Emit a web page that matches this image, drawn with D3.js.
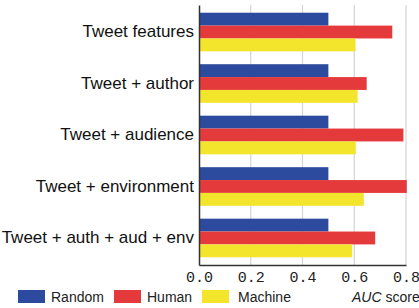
<!DOCTYPE html>
<html>
<head>
<meta charset="utf-8">
<script src="https://d3js.org/d3.v7.min.js"></script>
<style>
  body { margin: 0; background: #fff; }
  svg { display: block; }
</style>
</head>
<body>
<div id="graph"></div>
<script>
var categories = ["Tweet features", "Tweet + author", "Tweet + audience", "Tweet + environment", "Tweet + auth + aud + env"];
var seriesNames = ["Random", "Human", "Machine"];
var randomVals = [0.50, 0.50, 0.50, 0.50, 0.50];
var humanVals = [0.747, 0.648, 0.79, 0.803, 0.681];
var machineVals = [0.605, 0.613, 0.606, 0.637, 0.592];
var xTicks = [0.0, 0.2, 0.4, 0.6, 0.8];
var colors = ["#2d4b9e", "#e53a3b", "#f2e52c"];

var width = 419, height = 308;
var margin = {top: 5, right: 0, bottom: 43, left: 199};

var svg = d3.select("div#graph").append("svg")
  .attr("width", width)
  .attr("height", height);

var xScale = d3.scaleLinear().domain([0, 0.8]).range([margin.left, 406]);
var yScale = d3.scaleBand().domain(categories)
  .range([margin.top, height - margin.bottom])
  .paddingInner(0.25).paddingOuter(0.15);
var sub = d3.scaleBand().domain(seriesNames).range([0, yScale.bandwidth()]);

var allVals = [randomVals, humanVals, machineVals];

// grid lines
svg.append("g").selectAll("line").data(xTicks.slice(1)).enter().append("line")
  .attr("x1", function(d) { return xScale(d); })
  .attr("x2", function(d) { return xScale(d); })
  .attr("y1", margin.top)
  .attr("y2", height - margin.bottom)
  .attr("stroke", "#d4d4d4")
  .attr("stroke-width", 1.2);

// bars
seriesNames.forEach(function(s, i) {
  svg.append("g").selectAll("rect").data(allVals[i]).enter().append("rect")
    .attr("x", xScale(0))
    .attr("y", function(d, j) { return yScale(categories[j]) + sub(s); })
    .attr("width", function(d) { return xScale(d) - xScale(0); })
    .attr("height", sub.bandwidth())
    .attr("fill", colors[i]);
});

// axes
var xAxis = svg.append("g")
  .attr("transform", "translate(0," + (height - margin.bottom) + ")")
  .call(d3.axisBottom(xScale).tickValues(xTicks).tickSize(0).tickPadding(6).tickFormat(d3.format(".1f")));
xAxis.select(".domain").attr("stroke", "#333").attr("stroke-width", 1.5);
xAxis.selectAll("text")
  .attr("font-family", "'Liberation Mono', 'DejaVu Sans Mono', monospace")
  .attr("font-size", 15)
  .attr("fill", "#222");

var yAxis = svg.append("g")
  .attr("transform", "translate(" + margin.left + ",0)")
  .call(d3.axisLeft(yScale).tickSize(0).tickPadding(5));
yAxis.select(".domain").attr("stroke", "#333").attr("stroke-width", 1.5);
yAxis.selectAll("text")
  .attr("font-family", "'Liberation Sans', Arial, sans-serif")
  .attr("font-size", 17)
  .attr("fill", "#111");

// legend
var legendX = [18, 114, 202];
var legend = svg.append("g").selectAll("g").data(seriesNames).enter().append("g")
  .attr("transform", function(d, i) { return "translate(" + legendX[i] + ",290)"; });
legend.append("rect")
  .attr("width", 27).attr("height", 13)
  .attr("fill", function(d, i) { return colors[i]; });
legend.append("text")
  .attr("x", function(d, i) { return i == 2 ? 36 : 33; })
  .attr("y", 11.5)
  .attr("font-family", "'Liberation Sans', Arial, sans-serif")
  .attr("font-size", 14)
  .attr("fill", "#222")
  .text(function(d) { return d; });

var auc = svg.append("text")
  .attr("x", 352).attr("y", 301.5)
  .attr("font-family", "'Liberation Sans', Arial, sans-serif")
  .attr("font-size", 14)
  .attr("fill", "#222");
auc.append("tspan").attr("font-style", "italic").text("AUC");
auc.append("tspan").text(" score");
</script>
</body>
</html>
